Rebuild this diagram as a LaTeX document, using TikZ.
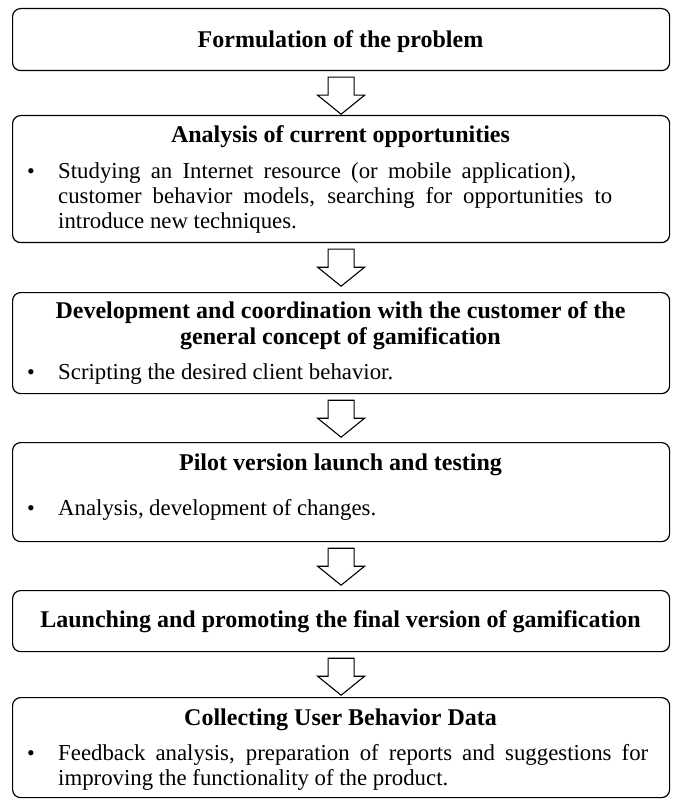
\documentclass[tikz,border=0pt]{standalone}
\usepackage{fontspec}
\setmainfont{Liberation Serif}
\usetikzlibrary{calc}
% a justified line of body text, stretched to a given width
\newcommand{\fullline}[2]{\makebox[#1][s]{#2}}
\begin{document}
\begin{tikzpicture}[x=1pt,y=-1pt,
  box/.style={draw, line width=1.2pt, rounded corners=8pt, inner sep=0pt,
              minimum width=657pt, anchor=north west},
  ttl/.style={font=\fontsize{24}{26}\selectfont\bfseries, anchor=base, inner sep=0pt},
  txt/.style={font=\fontsize{22.8}{25}\selectfont, anchor=base west, inner sep=0pt},
  dot/.style={font=\fontsize{22}{25}\selectfont, anchor=base, inner sep=0pt},
  blockarrow/.style={draw, line width=1.1pt, fill=white, line join=miter}]
\useasboundingbox (0,0) rectangle (673,799);

% stage boxes
\node[box, minimum height=62pt]  (b1) at (12,8)   {};
\node[box, minimum height=127pt] (b2) at (12,115) {};
\node[box, minimum height=101pt] (b3) at (12,292) {};
\node[box, minimum height=99pt]  (b4) at (12,442) {};
\node[box, minimum height=61pt]  (b5) at (12,590) {};
\node[box, minimum height=100pt] (b6) at (12,697) {};

% stage 1
\node[ttl] (t1) at (340.5,48) {Formulation of the problem};

% stage 2
\node[ttl] (t2) at (340.5,143) {Analysis of current opportunities};
\node[dot] (d2) at (31,179) {\textbullet};
\node[txt] (l2a) at (58,179) {\fullline{518pt}{Studying an Internet resource (or mobile application),}};
\node[txt] (l2b) at (58,204) {\fullline{554pt}{customer behavior models, searching for opportunities to}};
\node[txt] (l2c) at (58,229) {introduce new techniques.};

% stage 3
\node[ttl] (t3a) at (340.5,318) {Development and coordination with the customer of the};
\node[ttl] (t3b) at (340.5,344) {general concept of gamification};
\node[dot] (d3) at (31,379) {\textbullet};
\node[txt] (l3) at (58,379) {Scripting the desired client behavior.};

% stage 4
\node[ttl] (t4) at (340.5,470) {Pilot version launch and testing};
\node[dot] (d4) at (31,515) {\textbullet};
\node[txt] (l4) at (58,515) {\fullline{318pt}{Analysis, development of changes.}};

% stage 5
\node[ttl] (t5) at (340.5,627) {Launching and promoting the final version of gamification};

% stage 6
\node[ttl] (t6) at (340.5,725) {Collecting User Behavior Data};
\node[dot] (d6) at (31,760) {\textbullet};
\node[txt] (l6a) at (58,760) {\fullline{590pt}{Feedback analysis, preparation of reports and suggestions for}};
\node[txt] (l6b) at (58,785) {improving the functionality of the product.};

% hollow block arrows between consecutive stages
\foreach \u/\l in {b1/b2,b2/b3,b3/b4,b4/b5,b5/b6}{
  \draw[blockarrow] ($(\u.south)+(-13,6)$) -- ++(26,0) -- ++(0,18) -- ++(10.5,0)
    -- ($(\u.south)+(0,43)$) -- ($(\u.south)+(-23.5,24)$) -- ++(10.5,0) -- cycle;
}
\end{tikzpicture}
\end{document}
